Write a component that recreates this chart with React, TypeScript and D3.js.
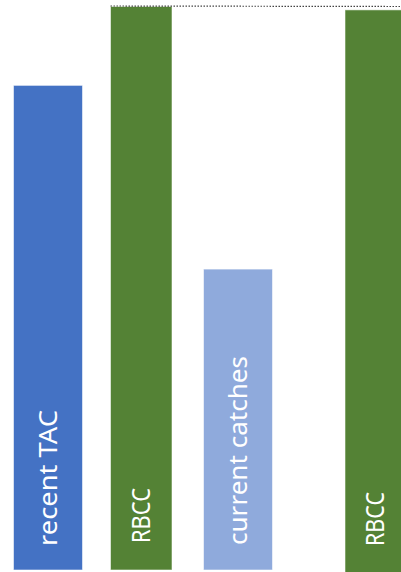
import React from "react";
import * as d3 from "d3";

const labels = ["recent TAC", "RBCC", "current catches", "RBCC"];
const seriesKeys = ["tac", "rbcc", "catches", "rbcc"];
const values = [86.0, 100, 53.4, 99.4];

// layout (not data)
const W = 401;
const H = 572;
const barEdges: [number, number][] = [
  [13.5, 82.5],
  [110.5, 172],
  [203.5, 272.5],
  [345, 404.5],
];
const colors: Record<string, string> = {
  tac: "#4472C4",
  rbcc: "#548235",
  catches: "#8FAADC",
};

export default function App() {
  const y = d3.scaleLinear().domain([0, 100]).range([570, 6.5]);
  const textStart = [546, 543, 545, 546];
  const textLen = [136, 55, 189, 54];
  return (
    <svg
      width={W}
      height={H}
      style={{ position: "fixed", left: 0, top: 0, background: "#fff" }}
    >
      {values.map((v, i) => {
        const [x0, x1] = barEdges[i];
        const bottom = i === 3 ? H + 4 : y(0);
        return (
          <rect
            key={"b" + i}
            x={x0}
            y={y(v)}
            width={x1 - x0}
            height={bottom - y(v)}
            fill={colors[seriesKeys[i]]}
            stroke="rgba(255,255,255,0.55)"
            strokeWidth={1}
          />
        );
      })}
      <line
        x1={110.5}
        x2={W}
        y1={6}
        y2={6.5}
        stroke="#444"
        strokeWidth={1.2}
        strokeDasharray="1.5,1.5"
      />
      {labels.map((l, i) => {
        const [x0, x1] = barEdges[i];
        const cx = (x0 + x1) / 2;
        const bx = cx + 9;
        return (
          <text
            key={"t" + i}
            transform={`translate(${bx},${textStart[i]}) rotate(-90)`}
            fill="#fff"
            fontFamily="'Noto Sans', 'Open Sans', sans-serif"
            fontSize={26}
            textLength={textLen[i]}
            lengthAdjust="spacingAndGlyphs"
          >
            {l}
          </text>
        );
      })}
    </svg>
  );
}
